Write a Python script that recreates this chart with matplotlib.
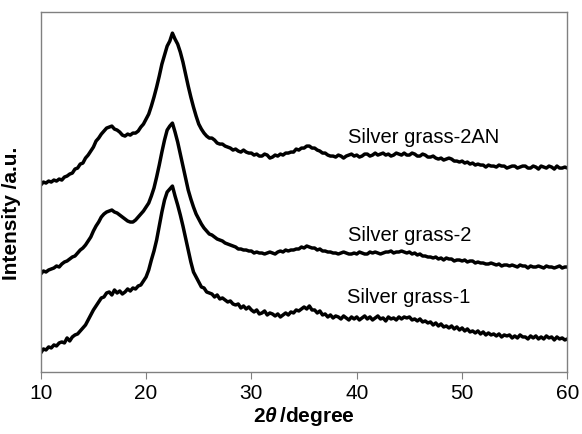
import numpy as np
import matplotlib
matplotlib.use('Agg')
import matplotlib.pyplot as plt

plt.rcParams['font.family'] = ['Liberation Sans', 'DejaVu Sans']
plt.rcParams['mathtext.fontset'] = 'custom'
plt.rcParams['mathtext.it'] = 'Liberation Sans:italic:bold'
plt.rcParams['mathtext.rm'] = 'Liberation Sans:bold'

# 2theta grid, 0.25 degree steps from 10 to 60
two_theta = np.arange(10, 60.001, 0.25)

# stacked XRD patterns (offset already included), arbitrary units
# one row = 2.5 degrees
sg_2an = [187, 190, 189, 191, 190, 192, 191, 193, 192, 195,
          196, 198, 199, 203, 204, 208, 209, 214, 217, 221,
          225, 231, 234, 238, 241, 244, 245, 246, 243, 242,
          240, 237, 236, 238, 237, 239, 239, 241, 245, 248,
          253, 258, 266, 275, 285, 296, 308, 317, 326, 331,
          339, 333, 328, 320, 310, 298, 286, 275, 265, 256,
          248, 243, 239, 236, 234, 234, 232, 229, 228, 228,
          226, 225, 224, 222, 223, 221, 220, 222, 220, 219,
          219, 217, 218, 216, 216, 218, 217, 214, 215, 217,
          216, 218, 217, 219, 219, 220, 220, 223, 222, 224,
          224, 226, 226, 224, 224, 222, 221, 219, 219, 217,
          216, 216, 215, 217, 216, 214, 216, 217, 218, 216,
          217, 215, 216, 218, 218, 216, 217, 219, 217, 218,
          219, 217, 218, 216, 217, 219, 218, 217, 219, 217,
          217, 219, 218, 216, 216, 218, 217, 215, 215, 216,
          214, 213, 214, 212, 213, 214, 213, 211, 211, 210,
          211, 209, 210, 208, 209, 207, 208, 207, 207, 205,
          207, 206, 206, 205, 207, 206, 206, 204, 205, 206,
          206, 204, 205, 206, 206, 204, 204, 206, 205, 203,
          206, 205, 204, 206, 205, 203, 206, 204, 204, 205,
          204]

sg_2 = [98, 101, 100, 102, 103, 104, 106, 105, 108, 110,
        111, 113, 115, 116, 119, 122, 124, 127, 131, 135,
        141, 146, 150, 155, 158, 160, 161, 162, 160, 159,
        157, 155, 153, 151, 150, 150, 152, 155, 158, 161,
        165, 169, 176, 184, 195, 207, 220, 232, 242, 246,
        249, 240, 230, 218, 206, 194, 182, 173, 165, 158,
        153, 148, 144, 141, 138, 137, 135, 133, 132, 131,
        129, 128, 127, 126, 125, 123, 123, 122, 122, 121,
        121, 119, 120, 119, 119, 118, 119, 120, 119, 118,
        120, 121, 120, 122, 121, 122, 122, 123, 123, 125,
        124, 126, 125, 124, 124, 122, 123, 121, 121, 120,
        120, 119, 119, 118, 119, 120, 119, 118, 118, 119,
        118, 120, 119, 118, 118, 120, 119, 120, 119, 118,
        119, 120, 120, 121, 119, 120, 120, 121, 120, 119,
        120, 118, 119, 117, 118, 116, 116, 115, 115, 114,
        115, 113, 114, 112, 114, 113, 113, 111, 112, 112,
        111, 112, 110, 111, 111, 109, 110, 109, 109, 108,
        108, 109, 108, 107, 108, 106, 107, 107, 106, 107,
        106, 105, 107, 106, 106, 104, 106, 105, 105, 106,
        105, 104, 106, 105, 105, 104, 105, 106, 104, 105,
        105]

sg_1 = [19, 23, 22, 25, 24, 27, 26, 29, 30, 29,
        34, 31, 35, 37, 38, 41, 44, 47, 52, 57,
        62, 66, 70, 74, 75, 79, 80, 77, 82, 79,
        81, 78, 80, 83, 81, 84, 83, 86, 87, 91,
        95, 102, 112, 121, 132, 146, 160, 172, 180, 183,
        186, 176, 167, 157, 146, 134, 122, 110, 100, 95,
        90, 85, 84, 80, 79, 78, 75, 77, 73, 74,
        72, 70, 71, 68, 67, 68, 64, 66, 63, 65,
        62, 60, 62, 58, 59, 61, 57, 59, 58, 56,
        58, 55, 57, 59, 57, 60, 59, 62, 61, 63,
        65, 63, 66, 62, 62, 59, 61, 57, 58, 55,
        57, 54, 56, 55, 53, 56, 54, 52, 55, 53,
        55, 52, 54, 56, 53, 55, 52, 54, 56, 53,
        54, 51, 55, 53, 54, 52, 55, 53, 55, 54,
        55, 52, 53, 51, 53, 50, 51, 49, 50, 47,
        49, 46, 48, 45, 46, 44, 46, 43, 45, 42,
        44, 41, 43, 40, 41, 39, 41, 38, 40, 37,
        39, 37, 38, 36, 38, 35, 37, 36, 37, 34,
        36, 34, 37, 35, 35, 33, 36, 34, 36, 33,
        35, 33, 36, 34, 35, 32, 35, 33, 34, 32,
        33]

series = [sg_2an, sg_2, sg_1]
labels = ['Silver grass-2AN', 'Silver grass-2', 'Silver grass-1']
label_pos = [(39.2, 235), (39.2, 137), (39.1, 74)]

fig = plt.figure(figsize=(5.82, 4.34), dpi=100)
ax = fig.add_axes([0.070, 0.143, 0.905, 0.829])

for y in series:
    ax.plot(two_theta, y, color='black', lw=2.5, solid_joinstyle='round')

for name, (lx, ly) in zip(labels, label_pos):
    ax.text(lx, ly, name, fontsize=14.5, va='center', ha='left')

ax.set_xlim(10, 60)
ax.set_ylim(0, 360)
ax.set_xticks([10, 20, 30, 40, 50, 60])
ax.set_yticks([])
ax.tick_params(axis='x', direction='out', length=5, color='#808080',
               labelsize=15, pad=4)
for s in ax.spines.values():
    s.set_color('#808080')
    s.set_linewidth(1.0)

ax.set_xlabel(r'2$\theta\,$/degree', fontsize=15, fontweight='bold', labelpad=1)
ax.set_ylabel('Intensity /a.u.', fontsize=15, fontweight='bold')
ax.yaxis.set_label_coords(-0.037, 0.44)

fig.savefig('out.png', dpi=100)
